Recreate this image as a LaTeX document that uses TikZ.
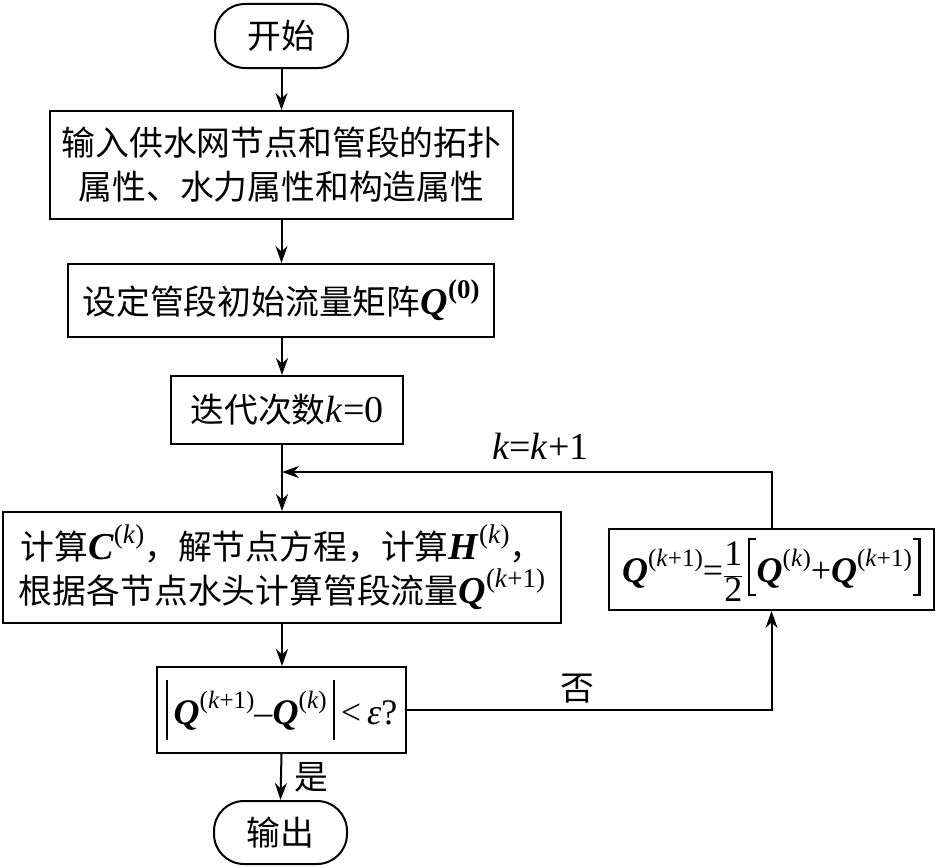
\documentclass[tikz,border=0pt]{standalone}
\usepackage{fontspec}
\setmainfont{Liberation Serif}
\newfontfamily\cjk[Scale=0.89]{Noto Sans CJK SC}
\usetikzlibrary{arrows.meta}
\newcommand\QQ{\textbf{\textit{Q}}}
\newcommand\sps[1]{\raisebox{0.42em}{\fontsize{27}{27}\selectfont(#1)}}
\newcommand\spsm[1]{\raisebox{0.42em}{\fontsize{25}{25}\selectfont(#1)}}
\newcommand\zh[1]{{\cjk #1}}
\newcommand\kk{\textit{k}}
\newcommand\vbar{\raisebox{-16pt}{\rule{2pt}{60pt}}}
\newcommand\lbrk{\raisebox{-14pt}{\begin{picture}(9,58)\put(0,0){\rule{2.4pt}{58pt}}\put(0,0){\rule{8pt}{2pt}}\put(0,56){\rule{8pt}{2pt}}\end{picture}}}
\newcommand\rbrk{\raisebox{-14pt}{\begin{picture}(9,58)\put(6.6,0){\rule{2.4pt}{58pt}}\put(1,0){\rule{8pt}{2pt}}\put(1,56){\rule{8pt}{2pt}}\end{picture}}}
\begin{document}
\begin{tikzpicture}[x=1pt,y=-1pt,
  font=\fontsize{38}{44}\selectfont,
  box/.style={draw, line width=2pt, inner sep=0pt, align=center},
  term/.style={draw, line width=2pt, inner sep=0pt, rounded corners=30pt, align=center},
  arr/.style={-{Stealth[length=17pt,width=12pt]}, line width=2pt},
  lin/.style={line width=2pt}]
\useasboundingbox (0,0) rectangle (936,867);
\node[term, minimum width=133pt, minimum height=64pt] (start) at (281.5,36) {\zh{开始}};
\node[box, minimum width=463pt, minimum height=108pt] (in) at (281.5,165)
  {\zh{输入供水网节点和管段的拓扑}\\\zh{属性、水力属性和构造属性}};
\node[box, minimum width=426pt, minimum height=73pt] (init) at (281,300.5)
  {\zh{设定管段初始流量矩阵}\QQ\textbf{\sps{0}}};
\node[box, minimum width=232pt, minimum height=68pt] (iter) at (287,410)
  {\zh{迭代次数}\kk=0};
\node[box, minimum width=558pt, minimum height=111pt] (calc) at (282,567.5)
  {\zh{计算}\textbf{\textit{C}}\sps{\kk}\zh{，解节点方程，计算}\textbf{\textit{H}}\sps{\kk}\zh{，}\\
   \zh{根据各节点水头计算管段流量}\QQ\sps{\kk+1}};
\node[box, minimum width=325pt, minimum height=81pt, font=\fontsize{36}{40}\selectfont] (upd) at (771.5,569.5)
  {\QQ\spsm{\kk+1}$\mbox{=}\displaystyle\frac{\mbox{1}}{\mbox{2}}\,$\lbrk\QQ\spsm{\kk}+\QQ\spsm{\kk+1}\rbrk};
\node[box, minimum width=249pt, minimum height=86pt, font=\fontsize{36}{40}\selectfont] (dec) at (281.5,710)
  {\vbar\,\QQ\spsm{\kk+1}–\QQ\spsm{\kk}\,\vbar\,<\,\textit{ε}?};
\node[term, minimum width=133pt, minimum height=63pt] (out) at (280.5,832.5) {\zh{输出}};
\coordinate (join) at (282,472);
\draw[arr] (start) -- (start |- in.north);
\draw[arr] (in) -- (in |- init.north);
\draw[arr] (init.south -| iter.north) ++(-5,0) coordinate (a1) -- (a1 |- iter.north);
\draw[lin] (calc.north |- iter.south) -- (join);
\draw[arr] (join) -- (calc.north);
\draw[arr] (upd.north) |- (join) node[pos=0.736, above=8pt] {\kk=\kk+1};
\draw[arr] (calc.south) -- (calc.south |- dec.north);
\draw[arr] (dec.east) -| (upd.south) node[pos=0.234, above=2pt] {\zh{否}};
\draw[arr] (dec.south) -- (out.north) node[pos=0.5, right=9pt] {\zh{是}};
\end{tikzpicture}
\end{document}
